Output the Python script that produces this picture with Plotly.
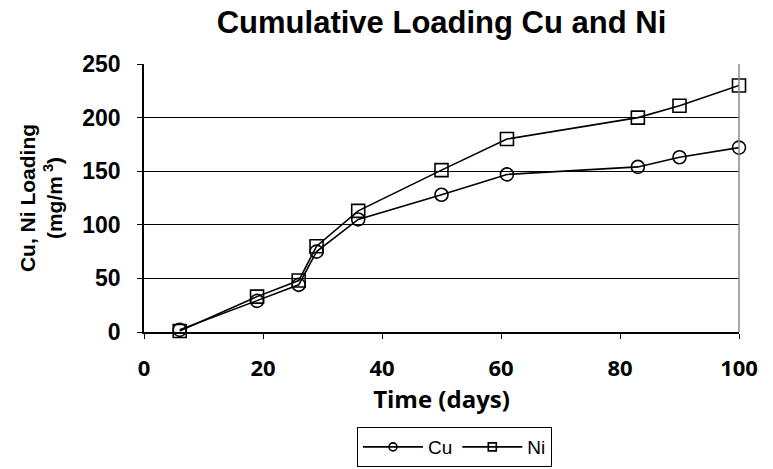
import plotly.graph_objects as go

# ----------------------------
# Data
# ----------------------------

days = [6, 19, 26, 29, 36, 50, 61, 83, 90, 100]
cu_loading = [2, 29, 44, 75, 105, 128, 147, 154, 163, 172]
ni_loading = [1, 33, 48, 80, 113, 151, 180, 200, 211, 230]

x_ticks = [0, 20, 40, 60, 80, 100]
y_ticks = [0, 50, 100, 150, 200, 250]

ARIAL = "Liberation Sans, Arial, sans-serif"
SANS = "Open Sans, Noto Sans, sans-serif"

# plot area in pixels (left, right, top, bottom)
L, R, T, B = 144, 739, 64, 332
W, H = 773, 469

fig = go.Figure()

series = [
    ("Cu", cu_loading, "circle-open"),
    ("Ni", ni_loading, "square-open"),
]

for name, values, symbol in series:
    fig.add_trace(
        go.Scatter(
            x=days,
            y=values,
            name=name,
            mode="lines+markers",
            line=dict(color="black", width=1.6),
            marker=dict(symbol=symbol, size=13, color="black", line=dict(width=1.6)),
            cliponaxis=False,
            showlegend=False,
        )
    )
    # legend entry with the small marker used in the reference legend
    fig.add_trace(
        go.Scatter(
            x=[None],
            y=[None],
            name=name,
            mode="lines+markers",
            line=dict(color="black", width=1.6),
            marker=dict(symbol=symbol, size=8, color="black", line=dict(width=1.6)),
        )
    )

# gray right-hand border of the plot area
fig.add_shape(
    type="line", xref="paper", yref="paper",
    x0=1, x1=1, y0=0, y1=1,
    line=dict(color="#888888", width=1.5),
)

fig.update_layout(
    width=W,
    height=H,
    paper_bgcolor="white",
    plot_bgcolor="white",
    font=dict(family=ARIAL, color="black"),
    margin=dict(l=L, r=W - R, t=T, b=H - B),
    title=dict(
        text="<b>Cumulative Loading Cu and Ni</b>",
        x=(L + R) / 2 / W,
        xanchor="center",
        y=1 - 22 / H,
        yanchor="middle",
        font=dict(size=31, family=ARIAL),
    ),
    xaxis=dict(
        range=[0, 100],
        tickvals=x_ticks,
        ticktext=[f"<b>{v}</b>" for v in x_ticks],
        showgrid=False,
        showline=True,
        linecolor="black",
        linewidth=1.5,
        ticks="outside",
        ticklen=5,
        tickcolor="black",
        tickfont=dict(size=22, family=SANS),
        ticklabelstandoff=11,
        title=dict(text="<b>Time (days)</b>", font=dict(size=24, family=SANS), standoff=3),
        zeroline=False,
        automargin=False,
    ),
    yaxis=dict(
        range=[0, 250],
        tickvals=y_ticks,
        ticktext=[f"<b>{v}</b>" for v in y_ticks],
        showgrid=True,
        gridcolor="black",
        gridwidth=1,
        showline=True,
        linecolor="black",
        linewidth=1.5,
        ticks="outside",
        ticklen=5,
        tickcolor="black",
        tickfont=dict(size=23, family=ARIAL),
        ticklabelstandoff=12,
        title=dict(
            text="<b>Cu, Ni Loading<br>(mg/m<sup> 3</sup>)</b>",
            font=dict(size=21, family=ARIAL),
            standoff=14,
        ),
        zeroline=False,
        automargin=False,
    ),
    legend=dict(
        orientation="h",
        x=(357 - L) / (R - L),
        xanchor="left",
        yref="container",
        y=1 - 427 / H,
        yanchor="top",
        bordercolor="black",
        borderwidth=1,
        font=dict(size=19, family=ARIAL),
        itemwidth=60,
        tracegroupgap=0,
    ),
    showlegend=True,
)

# drop the default page margin so the figure sits at the window's corner
fig.write_html(
    "out.html",
    config={"displayModeBar": False},
    post_script="document.body.style.margin = '0px';",
)
